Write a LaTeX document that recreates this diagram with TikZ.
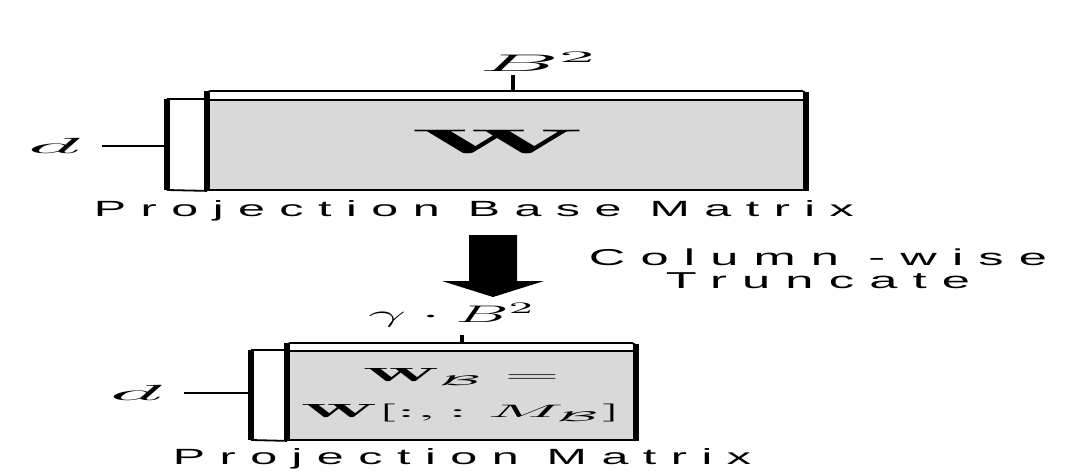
\documentclass[tikz,border=0pt]{standalone}
\usepackage{fontspec}
\usepackage{amsmath}
\newfontfamily\lblfont[LetterSpace=30]{Liberation Sans}
\tikzset{
  matbox/.style={draw, fill=black!15, line width=0.9pt, inner sep=0pt},
  thinline/.style={line width=0.9pt},
  sideline/.style={line width=3pt},
  brace/.style={line width=2.6pt},
  tickline/.style={line width=2pt},
  mlbl/.style={xscale=4.2, font=\fontsize{12}{12}\selectfont, inner sep=0pt},
  dlbl/.style={xscale=4.6, font=\fontsize{11}{11}\selectfont, inner sep=0pt},
  wbig/.style={xscale=4.9, font=\fontsize{17}{17}\selectfont, inner sep=0pt},
  wsmall/.style={xscale=3.85, font=\fontsize{9.5}{18}\selectfont, align=center, inner sep=0pt},
  lbltext/.style={xscale=2.2, font=\fontsize{11}{11}\selectfont\lblfont, align=center, inner sep=0pt},
}
\begin{document}
\begin{tikzpicture}[x=0.5pt, y=-0.5pt, line join=round]
\useasboundingbox (0,0) rectangle (1076,471);
% base matrix
\node[matbox, minimum width=298.5pt, minimum height=45pt] (base) at (506.5,145) {};
\node[wbig] (w) at (498,142) {$\mathbf{W}$};
\coordinate (basetr) at (805,91);
\draw[thinline, rounded corners=1.5pt] (base.north west) |- (basetr) -- (base.north east);
\draw[sideline] (base.south west) -- (base.north west |- basetr);
\draw[sideline] (base.south east) -- ([yshift=-0.5pt]base.north east |- basetr);
\coordinate (bt1) at (167,99);
\coordinate (bb1) at (167,190);
\draw[brace] (bt1) -- (bb1);
\draw[thinline] (bt1) -- (base.north west);
\draw[thinline] (bb1) -- (base.south west);
\node[dlbl] (d1) at (54,146) {$d$};
\draw[thinline, shorten <=10pt] (d1.east) -- (d1.east -| bt1);
\node[mlbl] (b1) at (539,62) {$B^2$};
\coordinate (tk1) at (513,75);
\draw[tickline] (tk1) -- (tk1 |- basetr);
\node[lbltext] (cap1) at (474,211) {Projection Base Matrix};
% truncate arrow
\fill (469,235) -- (469,281) -- (442,281) -- (493,297) -- (544,281) -- (517,281) -- (517,235) -- cycle;
\node[lbltext, font=\fontsize{11.5}{11.5}\selectfont\lblfont] (trunc) at (818,269) {Column -wise\\Truncate};
% projection matrix
\node[matbox, minimum width=173.5pt, minimum height=44.5pt] (proj) at (461.5,395.5) {};
\node[wsmall] (wb) at (proj.center) {$\mathbf{W}_{\mathcal{B}} =$\\$\mathbf{W}[:, :M_{\mathcal{B}}]$};
\coordinate (projtr) at (635,343);
\draw[thinline, rounded corners=1.5pt] (proj.north west) |- (projtr) -- (proj.north east);
\draw[sideline] (proj.south west) -- (proj.north west |- projtr);
\draw[sideline] (proj.south east) -- ([yshift=-0.5pt]proj.north east |- projtr);
\coordinate (bt2) at (251,350);
\coordinate (bb2) at (251,440);
\draw[brace] (bt2) -- (bb2);
\draw[thinline] (bt2) -- (proj.north west);
\draw[thinline] (bb2) -- (proj.south west);
\node[dlbl] (d2) at (136,393) {$d$};
\draw[thinline, shorten <=10pt] (d2.east) -- (d2.east -| bt2);
\node[mlbl, xscale=0.67] (b2) at (452,315) {$\gamma\cdot B^2$};
\coordinate (tk2) at (462,335);
\draw[tickline] (tk2) -- (tk2 |- projtr);
\node[lbltext] (cap2) at (462,459) {Projection Matrix};
\end{tikzpicture}
\end{document}
